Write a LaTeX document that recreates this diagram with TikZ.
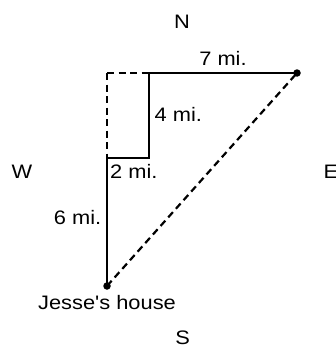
\documentclass[tikz,border=0pt]{standalone}
\usepackage{fontspec}
\newfontfamily\lblfont{Liberation Sans}[FakeStretch=1.12]
\begin{document}
\begin{tikzpicture}[x=1pt,y=-1pt,
  lbl/.style={inner sep=0pt,font=\lblfont\fontsize{19.5}{22}\selectfont},
  solidline/.style={line width=2.3pt,line cap=rect},
  dashline/.style={line width=2.2pt,dash pattern=on 7pt off 4.5pt},
  dotmark/.style={circle,fill=black,inner sep=0pt,minimum size=7.5pt}]
\useasboundingbox (0,0) rectangle (336,345);
% points
\coordinate (H) at (107,286);
\coordinate (A) at (107,158);
\coordinate (B) at (149,158);
\coordinate (C) at (149,73);
\coordinate (D) at (297,73);
\coordinate (T) at (107,73);
% dashed parts
\draw[dashline] (T) -- (A);
\draw[dashline] (T) -- (C);
\draw[dashline] (H) -- (D);
% solid path
\draw[solidline] (H) -- (A) -- (B) -- (C) -- (D);
\node[dotmark] (dotH) at (H) {};
\node[dotmark] (dotD) at (D) {};
% labels
\node[lbl,anchor=base] (n) at (182,29) {N};
\node[lbl,anchor=base] (s) at (182.7,344.5) {S};
\node[lbl,anchor=base] (w) at (22,178) {W};
\node[lbl,anchor=base west] (e) at (323.5,178) {E};
\node[lbl,anchor=base] (l7) at (223,66) {7 mi.};
\node[lbl,anchor=base west] (l4) at (154.5,121.5) {4 mi.};
\node[lbl,anchor=base west] (l2) at (110,178) {2 mi.};
\node[lbl,anchor=base east] (l6) at (101.5,224) {6 mi.};
\node[lbl,anchor=base] (house) at (107,309) {Jesse's house};
\end{tikzpicture}
\end{document}
